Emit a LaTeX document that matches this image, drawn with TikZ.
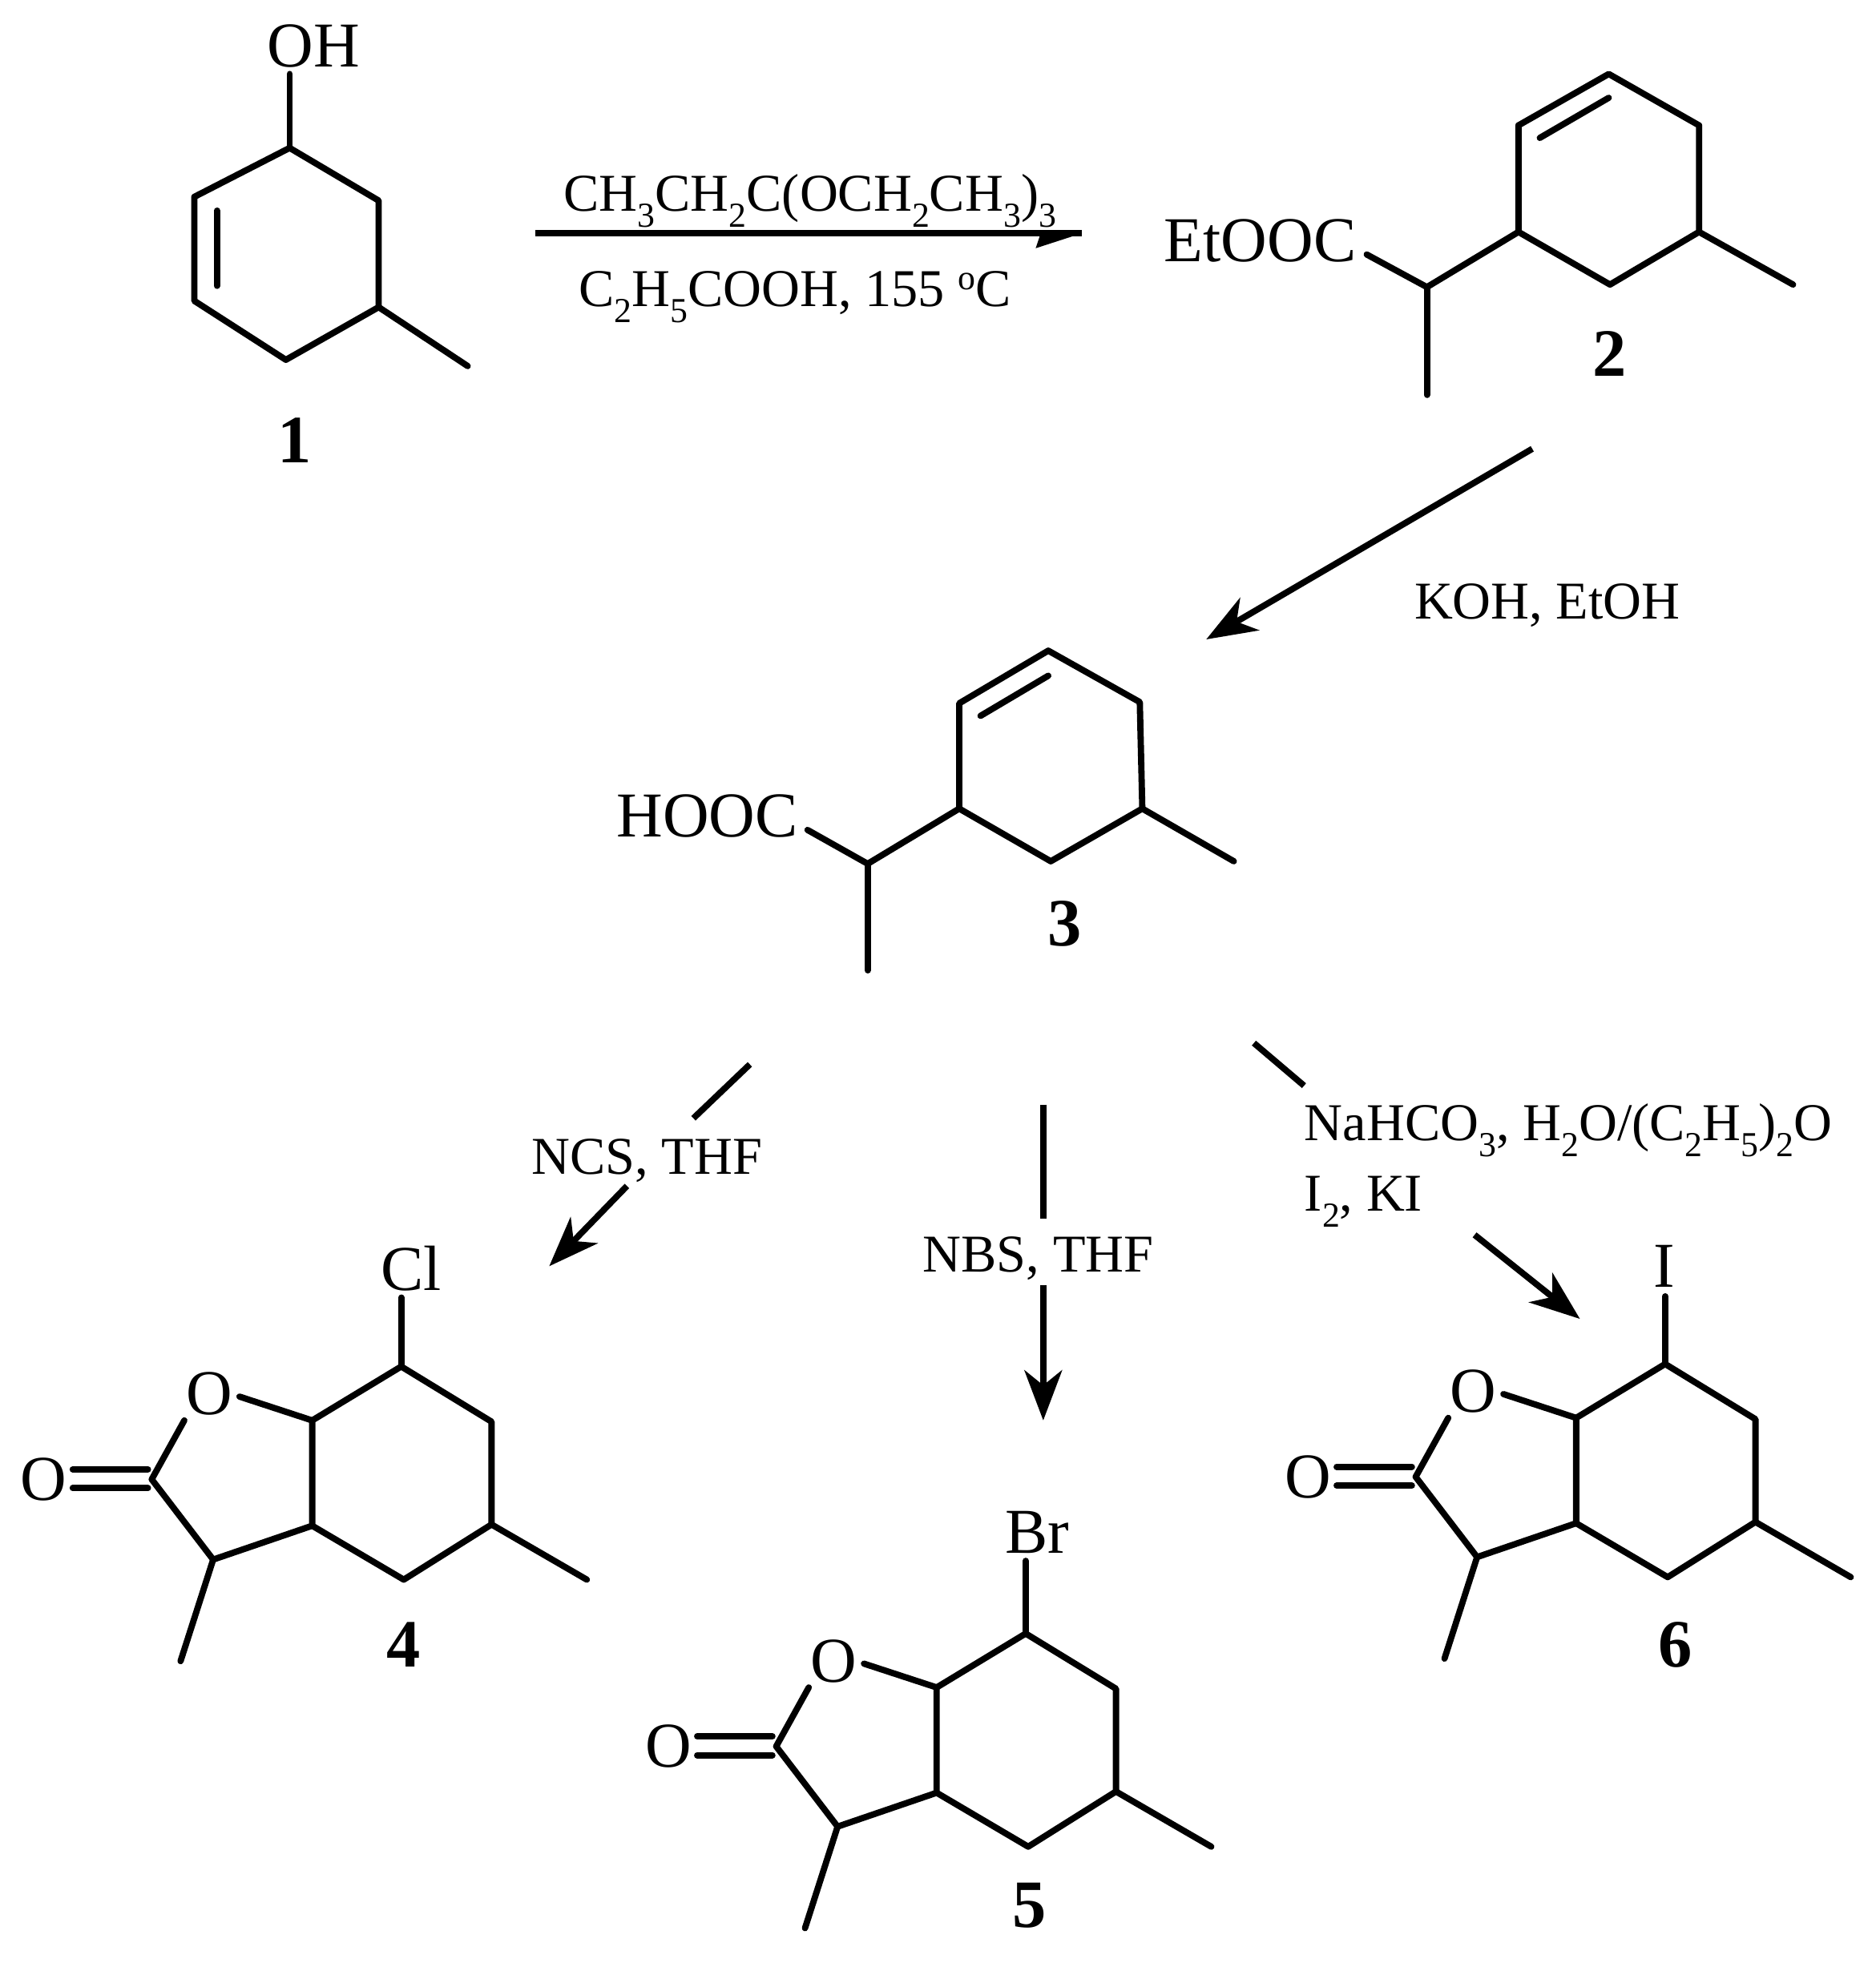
\documentclass[tikz,border=0pt]{standalone}
\usepackage{fontspec}
\setmainfont{Liberation Serif}
\usetikzlibrary{arrows.meta}
\newcommand{\sbs}[1]{\raisebox{-0.3em}{\fontsize{14}{14}\selectfont #1}}
\newcommand{\sps}[1]{\raisebox{0.32em}{\fontsize{14}{14}\selectfont #1}}
\tikzset{
  x=0.5pt,y=-0.5pt,
  bond/.style={line width=2.5pt,line cap=round,line join=round},
  atomlabel/.style={font=\fontsize{25.5}{26}\selectfont,inner sep=0pt},
  reagent/.style={font=\fontsize{21.2}{22}\selectfont,inner sep=0pt},
  numlabel/.style={font=\fontsize{27}{28}\selectfont\bfseries,inner sep=0pt},
  rxn/.style={line width=2.5pt},
  rxnhead/.style={line width=2.5pt,-{Stealth[length=20pt,width=15pt,inset=6pt]}},
  pics/lactone/.style={code={
    \coordinate (-a) at (0,0);
    \coordinate (-b) at (72,44);
    \coordinate (-c) at (72,126);
    \coordinate (-d) at (2,170);
    \coordinate (-e) at (-71,127);
    \coordinate (-f) at (-71,43);
    \coordinate (-me) at (148,170);
    \coordinate (-ob) at (-129,24);
    \coordinate (-oa) at (-173,43);
    \coordinate (-g) at (-199,90);
    \coordinate (-h) at (-150,154);
    \coordinate (-meb) at (-176,235);
    \coordinate (-da) at (-262,82);
    \coordinate (-db) at (-202,82);
    \coordinate (-dc) at (-262,97);
    \coordinate (-dd) at (-202,97);
    \node[atomlabel] (-ox) at (-153,22) {O};
    \node[atomlabel] (-ox2) at (-285,90) {O};
    \draw[bond] (-a) -- (-b) -- (-c) -- (-d) -- (-e) -- (-f) -- cycle;
    \draw[bond] (-f) -- (-ob);
    \draw[bond] (-oa) -- (-g) -- (-h) -- (-e);
    \draw[bond] (-h) -- (-meb);
    \draw[bond] (-c) -- (-me);
    \draw[bond] (-da) -- (-db);
    \draw[bond] (-dc) -- (-dd);
  }}
}
\begin{document}
\begin{tikzpicture}
\useasboundingbox (0,0) rectangle (1496,1569);
% compound 1
\coordinate (a1) at (231,118);
\coordinate (a2) at (302,160);
\coordinate (a3) at (302,245);
\coordinate (a4) at (228,287);
\coordinate (a5) at (155,240);
\coordinate (a6) at (155,157);
\coordinate (am) at (373,292);
\coordinate (aoh) at (231,59);
\coordinate (ai) at (173,168);
\coordinate (aj) at (173,228);
\node[atomlabel] (oh) at (250,37) {OH};
\node[numlabel] (n1) at (235,351) {1};
\draw[bond] (a1) -- (a2) -- (a3) -- (a4) -- (a5) -- (a6) -- cycle;
\draw[bond] (a3) -- (am);
\draw[bond] (a1) -- (aoh);
\draw[bond] (ai) -- (aj);
% arrow 1
\coordinate (r1s) at (427,186);
\coordinate (r1e) at (863,186);
\coordinate (r1b) at (826,198);
\draw[line width=2.6pt] (r1s) -- (r1e);
\fill (r1e) -- (r1b) -- (830,186) -- cycle;
\node[reagent] (t1) at (646,160) {CH\sbs{3}CH\sbs{2}C(OCH\sbs{2}CH\sbs{3})\sbs{3}};
\node[reagent] (t2) at (634,237) {C\sbs{2}H\sbs{5}COOH, 155 \sps{o}C};
% compound 2
\coordinate (b1) at (1283,59);
\coordinate (b2) at (1355,100);
\coordinate (b3) at (1355,185);
\coordinate (b4) at (1284,227);
\coordinate (b5) at (1211,185);
\coordinate (b6) at (1211,100);
\coordinate (bm) at (1430,227);
\coordinate (bc) at (1138,229);
\coordinate (bd) at (1090,203);
\coordinate (bn) at (1138,315);
\coordinate (bi) at (1228,110);
\coordinate (bj) at (1283,78);
\node[atomlabel] (etooc) at (1005,192) {EtOOC};
\node[numlabel] (n2) at (1284,282) {2};
\draw[bond] (b1) -- (b2) -- (b3) -- (b4) -- (b5) -- (b6) -- cycle;
\draw[bond] (b3) -- (bm);
\draw[bond] (b5) -- (bc) -- (bd);
\draw[bond] (bc) -- (bn);
\draw[bond] (bi) -- (bj);
% arrow 2
\coordinate (r2s) at (1222,358);
\coordinate (r2e) at (962,510);
\draw[rxnhead] (r2s) -- (r2e);
\node[reagent] (t3) at (1234,483) {KOH, EtOH};
% compound 3
\coordinate (c1) at (836,519);
\coordinate (c2) at (909,560);
\coordinate (c3) at (911,645);
\coordinate (c4) at (838,687);
\coordinate (c5) at (765,645);
\coordinate (c6) at (765,561);
\coordinate (cm) at (984,687);
\coordinate (cc) at (692,689);
\coordinate (cd) at (644,662);
\coordinate (cn) at (692,774);
\coordinate (ci) at (782,571);
\coordinate (cj) at (836,539);
\node[atomlabel] (hooc) at (564,651) {HOOC};
\node[numlabel] (n3) at (849,737) {3};
\draw[bond] (c1) -- (c2) -- (c3) -- (c4) -- (c5) -- (c6) -- cycle;
\draw[bond] (c3) -- (cm);
\draw[bond] (c5) -- (cc) -- (cd);
\draw[bond] (cc) -- (cn);
\draw[bond] (ci) -- (cj);
% arrow to 4
\coordinate (r4a) at (598,849);
\coordinate (r4b) at (553,892);
\coordinate (r4c) at (500,946);
\coordinate (r4d) at (438,1010);
\draw[rxn] (r4a) -- (r4b);
\draw[rxnhead] (r4c) -- (r4d);
\node[reagent] (t4) at (516,926) {NCS, THF};
% arrow to 5
\coordinate (r5a) at (832,881);
\coordinate (r5b) at (832,972);
\coordinate (r5c) at (832,1025);
\coordinate (r5d) at (832,1133);
\draw[rxn] (r5a) -- (r5b);
\draw[rxnhead] (r5c) -- (r5d);
\node[reagent] (t5) at (828,1004) {NBS, THF};
% arrow to 6
\coordinate (r6a) at (1000,832);
\coordinate (r6b) at (1040,866);
\coordinate (r6c) at (1176,985);
\coordinate (r6d) at (1260,1052);
\draw[rxn] (r6a) -- (r6b);
\draw[rxnhead] (r6c) -- (r6d);
\node[reagent,anchor=base west] (t6) at (1040,910) {NaHCO\sbs{3}, H\sbs{2}O/(C\sbs{2}H\sbs{5})\sbs{2}O};
\node[reagent,anchor=base west] (t7) at (1040,966) {I\sbs{2}, KI};
% compound 4
\pic (d) at (320,1090) {lactone};
\coordinate (dx) at (320,1035);
\node[atomlabel] (cl) at (328,1012) {Cl};
\node[numlabel] (n4) at (322,1312) {4};
\draw[bond] (d-a) -- (dx);
% compound 5
\pic (e) at (818,1303) {lactone};
\coordinate (ex) at (818,1245);
\node[atomlabel] (br) at (827,1222) {Br};
\node[numlabel] (n5) at (821,1520) {5};
\draw[bond] (e-a) -- (ex);
% compound 6
\pic (f) at (1328,1088) {lactone};
\coordinate (fx) at (1328,1034);
\node[atomlabel] (iod) at (1327,1010) {I};
\node[numlabel] (n6) at (1336,1312) {6};
\draw[bond] (f-a) -- (fx);
\end{tikzpicture}
\end{document}
